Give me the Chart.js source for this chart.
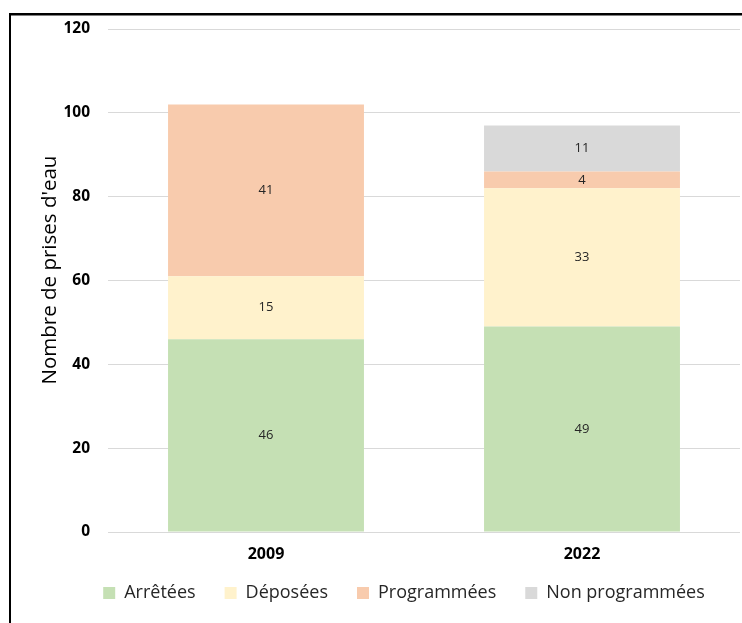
<!DOCTYPE html>
<html>
<head>
<meta charset="utf-8">
<script src="https://cdn.jsdelivr.net/npm/chart.js@4"></script>
<style>
  html, body { margin: 0; padding: 0; background: #fff; }
  #wrap { width: 742px; height: 623px; }
</style>
</head>
<body>
<div id="wrap"><canvas id="chart" width="742" height="623"></canvas></div>
<script>
// Nombre de prises d'eau par statut
const years = ['2009', '2022'];
const arretees = [46, 49];
const deposees = [15, 33];
const programmees = [41, 4];
const nonProgrammees = [null, 11];
const yTicks = [0, 20, 40, 60, 80, 100, 120];
const yTitle = "Nombre de prises d'eau";

const FONT = "'Open Sans', 'Liberation Sans', sans-serif";

// Value labels centred in each stacked segment
const segmentLabels = {
  id: 'segmentLabels',
  afterDatasetsDraw(chart) {
    const ctx = chart.ctx;
    ctx.save();
    ctx.font = '13px ' + FONT;
    ctx.fillStyle = '#262626';
    ctx.textAlign = 'center';
    ctx.textBaseline = 'middle';
    chart.data.datasets.forEach((ds, i) => {
      const meta = chart.getDatasetMeta(i);
      meta.data.forEach((bar, j) => {
        const v = ds.data[j];
        if (v === null || v === undefined || v === 0) return;
        ctx.fillText(String(v), bar.x, (bar.y + bar.base) / 2);
      });
    });
    ctx.restore();
  }
};

// Legend row sits slightly right of the canvas centre; the category
// labels get a little more room below their compact axis box
const layoutTweaks = {
  id: 'layoutTweaks',
  afterLayout(chart) {
    const lg = chart.legend;
    if (lg) { lg.left += 34; lg.right += 34; }
    const x = chart.scales.x;
    if (x) { x.bottom += 20; }
  }
};

// Frame and vertical axis title
const frame = {
  id: 'frame',
  afterDraw(chart) {
    const ctx = chart.ctx;
    ctx.save();
    ctx.fillStyle = '#000';
    ctx.fillRect(9, 13, 733, 2.5);
    ctx.fillRect(9, 13, 2, 610);
    ctx.translate(50, 270);
    ctx.rotate(-Math.PI / 2);
    ctx.font = '20.5px ' + FONT;
    ctx.fillStyle = '#000';
    ctx.textAlign = 'center';
    ctx.textBaseline = 'middle';
    ctx.fillText(yTitle, 0, 0);
    ctx.restore();
  }
};

const mk = (label, data, color) => ({
  label, data, backgroundColor: color, borderWidth: 0,
  categoryPercentage: 1, barPercentage: 0.62
});

new Chart(document.getElementById('chart'), {
  type: 'bar',
  data: {
    labels: years,
    datasets: [
      mk('Arrêtées', arretees, '#C5E0B4'),
      mk('Déposées', deposees, '#FFF2CC'),
      mk('Programmées', programmees, '#F8CBAD'),
      mk('Non programmées', nonProgrammees, '#D9D9D9')
    ]
  },
  options: {
    responsive: false,
    animation: false,
    layout: { padding: { left: 0, right: 2, top: 29, bottom: 11 } },
    plugins: {
      legend: {
        position: 'bottom',
        labels: {
          font: { family: FONT, size: 18 },
          color: '#262626',
          boxWidth: 12,
          boxHeight: 12,
          padding: 29
        }
      },
      tooltip: { enabled: false }
    },
    scales: {
      x: {
        stacked: true,
        grid: { display: false, drawTicks: false },
        border: { display: false },
        ticks: { font: { family: FONT, size: 16, weight: 'bold' }, color: '#000', padding: 13 },
        afterFit(s) { s.height = 23; }
      },
      y: {
        stacked: true,
        min: 0, max: 120,
        afterBuildTicks(s) { s.ticks = yTicks.map(v => ({ value: v })); },
        grid: { color: '#D9D9D9', lineWidth: 1, drawTicks: false },
        border: { display: false },
        ticks: { font: { family: FONT, size: 15.5, weight: 'bold' }, color: '#000', padding: 18 },
        afterFit(s) { s.width = 108; }
      }
    }
  },
  plugins: [segmentLabels, layoutTweaks, frame]
});
</script>
</body>
</html>
